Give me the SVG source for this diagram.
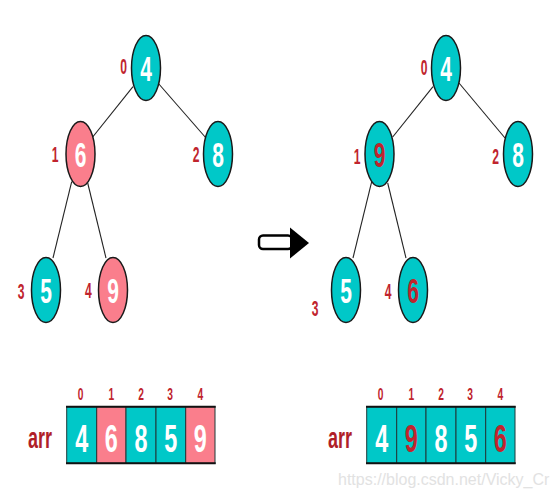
<svg xmlns="http://www.w3.org/2000/svg" width="558" height="498" viewBox="0 0 558 498">
<style>
.t{fill:#00C8C8;stroke:#1a1a1a;stroke-width:1.5}
.p{fill:#FA7E8C;stroke:#1a1a1a;stroke-width:1.5}
.e{stroke:#222;stroke-width:1.1;fill:none}
text{font-family:"Liberation Sans",Arial,sans-serif;font-weight:bold;text-anchor:middle}
.nd{font-size:35px;fill:#fff}
.ndr{font-size:35px;fill:#C0242D}
.lb{font-size:22px;fill:#C0242D}
.ix{font-size:16.5px;fill:#C0242D}
.ad{font-size:39px;fill:#fff}
.adr{font-size:39px;fill:#C0242D}
.arr{font-size:29px;fill:#B01E28;text-anchor:start}
.ct{fill:#00C8C8;stroke:#1f3a3a;stroke-width:1}
.cp{fill:#FA7E8C;stroke:#1f3a3a;stroke-width:1}
.wm{font-family:"Liberation Sans",Arial,sans-serif;font-weight:normal;font-size:16px;fill:#e2e2e2;text-anchor:start}
</style>
<g id="connectors">
<line class="e" x1="133" y1="86.7" x2="92.7" y2="137"/>
<line class="e" x1="158" y1="83" x2="206" y2="138"/>
<line class="e" x1="71.7" y1="181.7" x2="53" y2="258"/>
<line class="e" x1="87.7" y1="183" x2="106" y2="258"/>
<line class="e" x1="433" y1="86.7" x2="392.7" y2="137"/>
<line class="e" x1="459" y1="83" x2="505" y2="138"/>
<line class="e" x1="371.7" y1="181.7" x2="353" y2="258"/>
<line class="e" x1="387.7" y1="183" x2="406" y2="258"/>
</g>
<g id="L0"><ellipse class="t" cx="146" cy="68" rx="14.5" ry="32.5"/><text class="nd" transform="translate(146,80.5) scale(0.6,1)">4</text><text class="lb" transform="translate(123.5,74) scale(0.55,1)">0</text></g>
<g id="L1"><ellipse class="p" cx="80.5" cy="154" rx="14.5" ry="32.5"/><text class="nd" transform="translate(80.5,166.5) scale(0.6,1)">6</text><text class="lb" transform="translate(55,162) scale(0.55,1)">1</text></g>
<g id="L2"><ellipse class="t" cx="218" cy="154" rx="14.5" ry="32.5"/><text class="nd" transform="translate(218,166.5) scale(0.6,1)">8</text><text class="lb" transform="translate(196,162) scale(0.55,1)">2</text></g>
<g id="L3"><ellipse class="t" cx="46" cy="290" rx="14.5" ry="32.5"/><text class="nd" transform="translate(46,302.5) scale(0.6,1)">5</text><text class="lb" transform="translate(21,299) scale(0.55,1)">3</text></g>
<g id="L4"><ellipse class="p" cx="113" cy="290" rx="14.5" ry="32.5"/><text class="nd" transform="translate(113,302.5) scale(0.6,1)">9</text><text class="lb" transform="translate(88.3,298) scale(0.55,1)">4</text></g>
<g id="R0"><ellipse class="t" cx="446" cy="68" rx="14.5" ry="32.5"/><text class="nd" transform="translate(446,80.5) scale(0.6,1)">4</text><text class="lb" transform="translate(424,75) scale(0.55,1)">0</text></g>
<g id="R1"><ellipse class="t" cx="379.5" cy="154" rx="14.5" ry="32.5"/><text class="ndr" transform="translate(379.5,166.5) scale(0.6,1)">9</text><text class="lb" transform="translate(357,164) scale(0.55,1)">1</text></g>
<g id="R2"><ellipse class="t" cx="518" cy="154" rx="14.5" ry="32.5"/><text class="nd" transform="translate(518,166.5) scale(0.6,1)">8</text><text class="lb" transform="translate(495.5,164) scale(0.55,1)">2</text></g>
<g id="R3"><ellipse class="t" cx="346" cy="290" rx="14.5" ry="32.5"/><text class="nd" transform="translate(346,302.5) scale(0.6,1)">5</text><text class="lb" transform="translate(315,316) scale(0.55,1)">3</text></g>
<g id="R4"><ellipse class="t" cx="413" cy="290" rx="14.5" ry="32.5"/><text class="ndr" transform="translate(413,302.5) scale(0.6,1)">6</text><text class="lb" transform="translate(388,299) scale(0.55,1)">4</text></g>
<g id="arrow">
<rect x="259" y="235.5" width="33" height="13.5" rx="4" fill="#fff" stroke="#000" stroke-width="2.5"/>
<polygon points="290,227.5 309,243 290,258.5" fill="#000"/>
</g>
<g id="arrayL">
<text class="arr" transform="translate(28,448) scale(0.62,1)">arr</text>
<rect class="ct" x="66.7" y="406.7" width="30" height="56.6"/>
<rect class="cp" x="96.7" y="406.7" width="29.3" height="56.6"/>
<rect class="ct" x="126" y="406.7" width="30" height="56.6"/>
<rect class="ct" x="156" y="406.7" width="29.7" height="56.6"/>
<rect class="cp" x="185.7" y="406.7" width="29.3" height="56.6"/>
<line x1="66" y1="406.7" x2="215.7" y2="406.7" stroke="#111" stroke-width="2"/>
<line x1="66" y1="463.3" x2="215.7" y2="463.3" stroke="#111" stroke-width="2"/>
<text class="ix" transform="translate(80.5,399.5) scale(0.62,1)">0</text>
<text class="ix" transform="translate(111.3,399.5) scale(0.62,1)">1</text>
<text class="ix" transform="translate(141,399.5) scale(0.62,1)">2</text>
<text class="ix" transform="translate(170,399.5) scale(0.62,1)">3</text>
<text class="ix" transform="translate(200.3,399.5) scale(0.62,1)">4</text>
<text class="ad" transform="translate(81.7,451.7) scale(0.6,1)">4</text>
<text class="ad" transform="translate(111.3,451.7) scale(0.6,1)">6</text>
<text class="ad" transform="translate(141,451.7) scale(0.6,1)">8</text>
<text class="ad" transform="translate(170.8,451.7) scale(0.6,1)">5</text>
<text class="ad" transform="translate(200.3,451.7) scale(0.6,1)">9</text>
</g>
<g id="arrayR">
<text class="arr" transform="translate(328,448) scale(0.62,1)">arr</text>
<rect class="ct" x="366.7" y="406.7" width="30" height="56.6"/>
<rect class="ct" x="396.7" y="406.7" width="29.3" height="56.6"/>
<rect class="ct" x="426" y="406.7" width="30" height="56.6"/>
<rect class="ct" x="456" y="406.7" width="29.7" height="56.6"/>
<rect class="ct" x="485.7" y="406.7" width="29.3" height="56.6"/>
<line x1="366" y1="406.7" x2="515.7" y2="406.7" stroke="#111" stroke-width="2"/>
<line x1="366" y1="463.3" x2="515.7" y2="463.3" stroke="#111" stroke-width="2"/>
<text class="ix" transform="translate(380.5,399.5) scale(0.62,1)">0</text>
<text class="ix" transform="translate(411.3,399.5) scale(0.62,1)">1</text>
<text class="ix" transform="translate(441,399.5) scale(0.62,1)">2</text>
<text class="ix" transform="translate(470,399.5) scale(0.62,1)">3</text>
<text class="ix" transform="translate(500.3,399.5) scale(0.62,1)">4</text>
<text class="ad" transform="translate(381.7,451.7) scale(0.6,1)">4</text>
<text class="adr" transform="translate(411.3,451.7) scale(0.6,1)">9</text>
<text class="ad" transform="translate(441,451.7) scale(0.6,1)">8</text>
<text class="ad" transform="translate(470.8,451.7) scale(0.6,1)">5</text>
<text class="adr" transform="translate(500.3,451.7) scale(0.6,1)">6</text>
</g>
<text class="wm" x="338" y="485">https://blog.csdn.net/Vicky_Cr</text>
</svg>
